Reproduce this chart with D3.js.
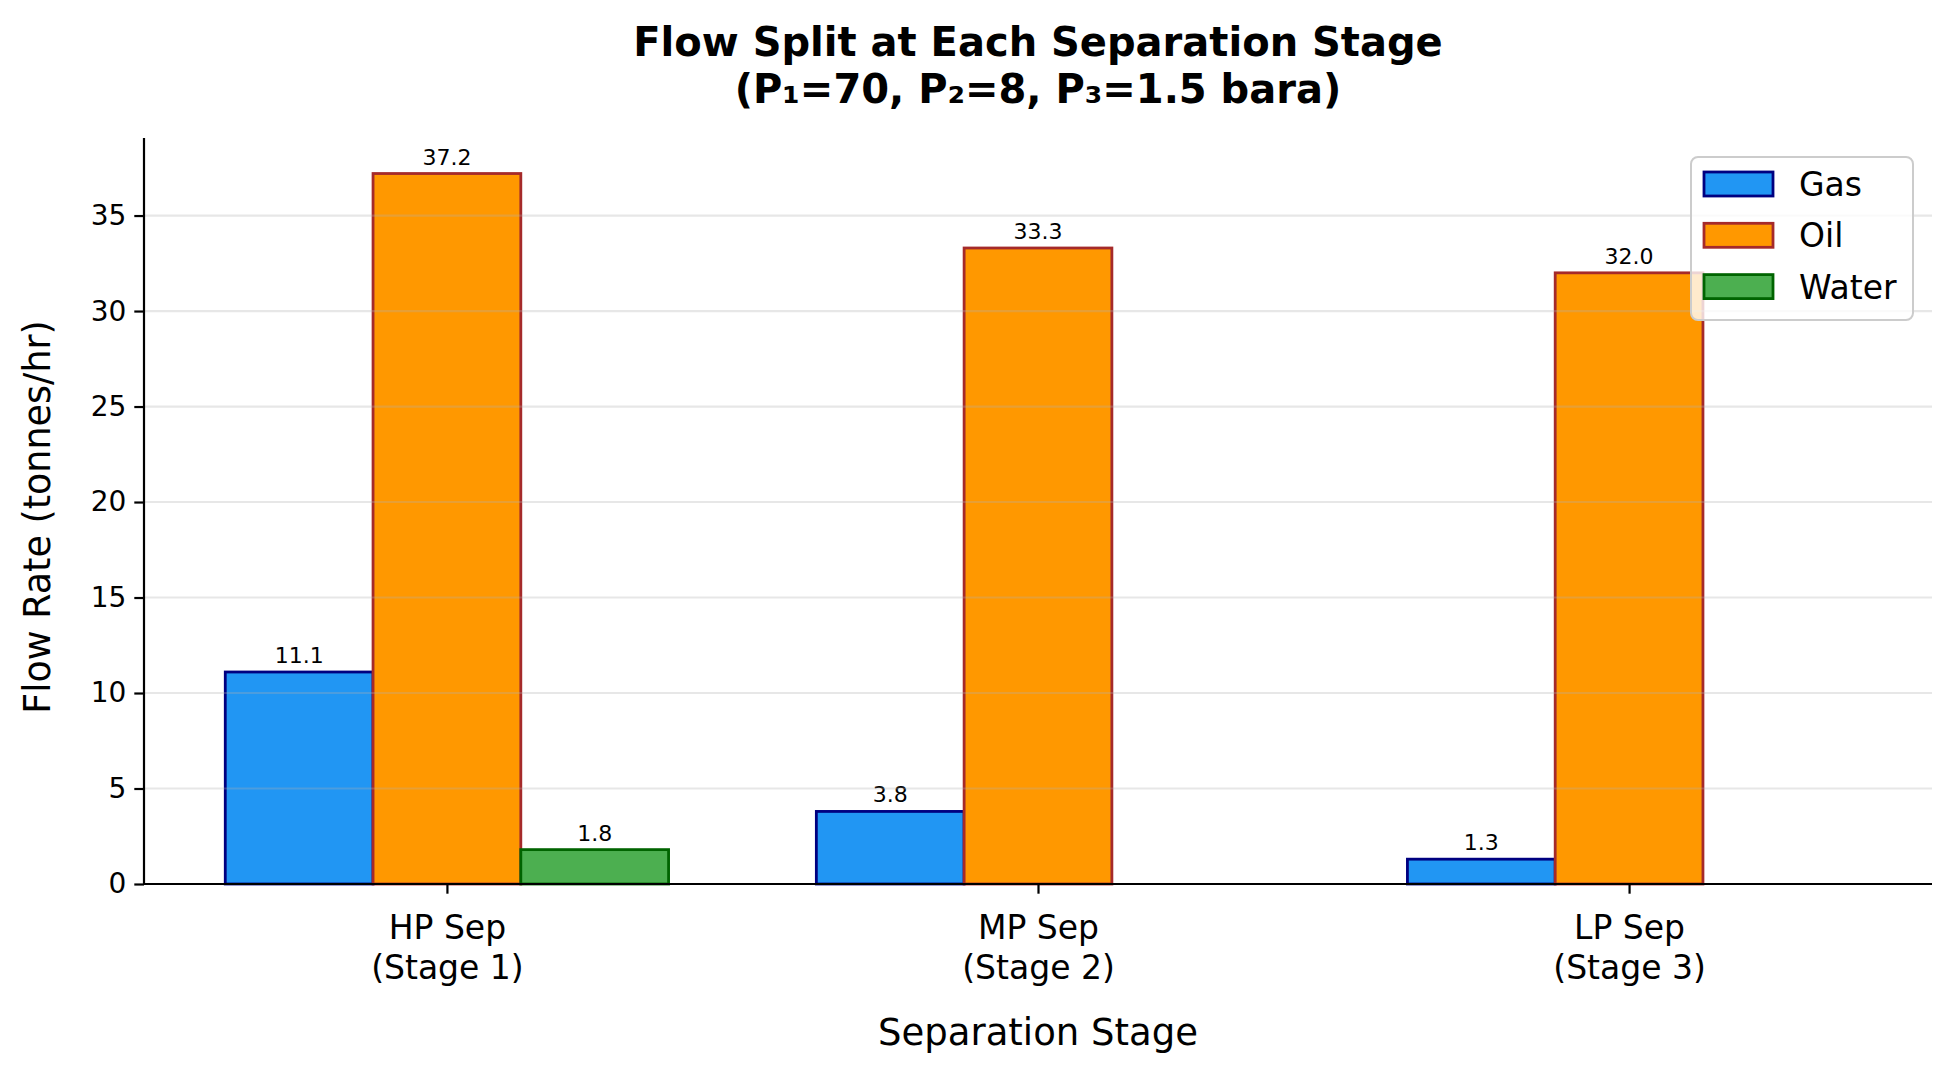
<!DOCTYPE html>
<html>
<head>
<meta charset="utf-8">
<script src="https://cdn.jsdelivr.net/npm/d3@7"></script>
<style>
  html, body { margin: 0; padding: 0; background: #fff; }
  svg { display: block; font-family: "DejaVu Sans", sans-serif; }
  svg text { font-family: "DejaVu Sans", sans-serif; }
</style>
</head>
<body>
<svg id="chart" width="1951" height="1071"></svg>
<script>
const categories = ["HP Sep\n(Stage 1)", "MP Sep\n(Stage 2)", "LP Sep\n(Stage 3)"];
const seriesNames = ["Gas", "Oil", "Water"];
const gasValues = [11.1, 3.8, 1.3];
const oilValues = [37.2, 33.3, 32.0];
const waterValues = [1.8, 0, 0];
const yTicks = [0, 5, 10, 15, 20, 25, 30, 35];
const titleLines = ["Flow Split at Each Separation Stage", "(P\u2081=70, P\u2082=8, P\u2083=1.5 bara)"];
const xLabel = "Separation Stage";
const yLabel = "Flow Rate (tonnes/hr)";

const fills = ["#2196F3", "#FF9800", "#4CAF50"];
const edges = ["#000080", "#A52A2A", "#006400"];
const seriesValues = [gasValues, oilValues, waterValues];

const svg = d3.select("#chart");
const plotL = 144, plotR = 1932, plotT = 138, plotB = 884;
const barW = 0.25;
const FONT = "DejaVu Sans";

const x = d3.scaleLinear().domain([-0.5125, 2.5125]).range([plotL, plotR]);
const y = d3.scaleLinear().domain([0, 39.06]).range([plotB, plotT]);

// bars
seriesValues.forEach((vals, si) => {
  const off = (si - 1) * barW;
  const g = svg.append("g");
  vals.forEach((v, ci) => {
    if (v <= 0) return;
    const x0 = x(ci + off - barW / 2), x1 = x(ci + off + barW / 2);
    g.append("rect")
      .attr("x", x0).attr("y", y(v))
      .attr("width", x1 - x0).attr("height", y(0) - y(v))
      .attr("fill", fills[si]).attr("stroke", edges[si]).attr("stroke-width", 2.8);
    g.append("text")
      .attr("x", (x0 + x1) / 2).attr("y", y(v) - 9)
      .attr("text-anchor", "middle").attr("font-size", 22).attr("font-family", FONT).attr("fill", "#000")
      .text(v.toFixed(1));
  });
});

// grid (drawn over bars, like matplotlib)
svg.append("g").selectAll("line").data(yTicks).join("line")
  .attr("x1", plotL).attr("x2", plotR)
  .attr("y1", d => y(d)).attr("y2", d => y(d))
  .attr("stroke", "#b0b0b0").attr("stroke-opacity", 0.3).attr("stroke-width", 2.2);

// y axis
const yAxis = svg.append("g").attr("transform", `translate(${plotL},0)`)
  .call(d3.axisLeft(y).tickValues(yTicks).tickSize(9.7).tickPadding(8).tickFormat(d3.format("d")));
yAxis.attr("font-family", FONT);
yAxis.select(".domain").attr("d", `M0,${plotT}V${plotB}`).attr("stroke", "#000").attr("stroke-width", 2.2);
yAxis.selectAll(".tick line").attr("stroke", "#000").attr("stroke-width", 2.2);
yAxis.selectAll(".tick text").attr("font-size", 28).attr("font-family", FONT).attr("fill", "#000");

// x axis
const xAxis = svg.append("g").attr("transform", `translate(0,${plotB})`)
  .call(d3.axisBottom(x).tickValues([0, 1, 2]).tickSize(9.7).tickFormat(""));
xAxis.attr("font-family", FONT);
xAxis.select(".domain").attr("d", `M${plotL},0H${plotR}`).attr("stroke", "#000").attr("stroke-width", 2.2);
xAxis.selectAll(".tick line").attr("stroke", "#000").attr("stroke-width", 2.2);
xAxis.selectAll(".tick").each(function(d) {
  const t = d3.select(this).append("text")
    .attr("text-anchor", "middle").attr("font-size", 33).attr("font-family", FONT).attr("fill", "#000");
  categories[d].split("\n").forEach((line, i) => {
    t.append("tspan").attr("x", 0).attr("y", 55 + i * 40).text(line);
  });
});

// axis labels
svg.append("text").attr("x", (plotL + plotR) / 2).attr("y", 1045)
  .attr("text-anchor", "middle").attr("font-size", 37).attr("font-family", FONT).attr("fill", "#000").text(xLabel);
svg.append("text").attr("transform", `translate(50,${(plotT + plotB) / 2 + 6}) rotate(-90)`)
  .attr("text-anchor", "middle").attr("font-size", 36.5).attr("font-family", FONT).attr("fill", "#000").text(yLabel);

// title
titleLines.forEach((line, i) => {
  svg.append("text").attr("x", (plotL + plotR) / 2).attr("y", 56 + i * 47)
    .attr("text-anchor", "middle").attr("font-size", 40).attr("font-weight", "bold").attr("font-family", FONT)
    .attr("fill", "#000").text(line);
});

// legend
const lg = svg.append("g");
lg.append("rect").attr("x", 1691).attr("y", 157).attr("width", 222).attr("height", 163)
  .attr("rx", 7).attr("fill", "#fff").attr("fill-opacity", 0.8)
  .attr("stroke", "#cccccc").attr("stroke-width", 2);
seriesNames.forEach((name, i) => {
  const cy = 184 + i * 51.3;
  lg.append("rect").attr("x", 1704).attr("y", cy - 12).attr("width", 69).attr("height", 24)
    .attr("fill", fills[i]).attr("stroke", edges[i]).attr("stroke-width", 2.8);
  lg.append("text").attr("x", 1799).attr("y", cy + 12).attr("font-size", 33).attr("font-family", FONT).attr("fill", "#000").text(name);
});
</script>
</body>
</html>
